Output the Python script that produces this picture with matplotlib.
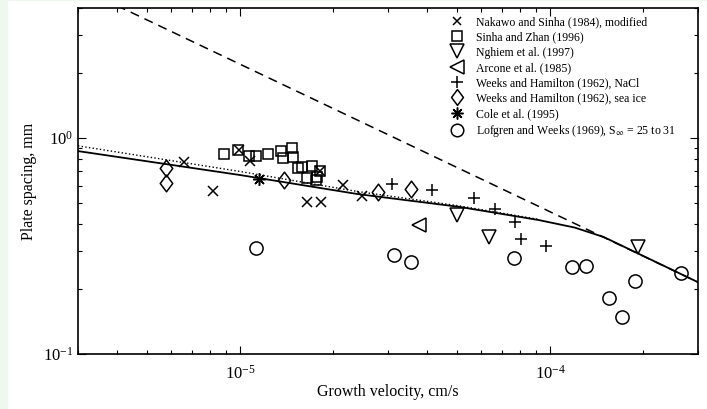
import numpy as np
import matplotlib
matplotlib.use("Agg")
import matplotlib.pyplot as plt
from matplotlib.path import Path
from matplotlib.patches import Rectangle

plt.rcParams['font.family'] = ['Liberation Serif', 'DejaVu Serif']
plt.rcParams['mathtext.fontset'] = 'stix'

# model curves
solid_x = [3e-6, 1e-5, 2.4e-5, 5.1e-5, 9.2e-5, 1.2e-4, 1.49e-4, 3e-4]
solid_y = [0.87, 0.674, 0.55, 0.48, 0.417, 0.385, 0.348, 0.215]
dotted_x = [3e-6, 1e-5, 2.4e-5, 5.1e-5, 9.2e-5]
dotted_y = [0.92, 0.70, 0.565, 0.485, 0.42]
dashed_x = [3e-6, 3e-4]
dashed_y = [5.0, 0.215]

# measurements
nakawo_x = [6.6e-6, 8.19e-6, 9.93e-6, 1.077e-5, 1.64e-5, 1.82e-5, 1.81e-5, 2.14e-5, 2.47e-5]
nakawo_y = [0.774, 0.568, 0.88, 0.782, 0.505, 0.505, 0.703, 0.606, 0.539]
sinha_x = [8.88e-6, 9.85e-6, 1.069e-5, 1.126e-5, 1.23e-5, 1.354e-5, 1.47e-5, 1.374e-5,
           1.48e-5, 1.582e-5, 1.536e-5, 1.704e-5, 1.642e-5, 1.755e-5, 1.808e-5, 1.768e-5]
sinha_y = [0.843, 0.88, 0.825, 0.825, 0.843, 0.871, 0.899, 0.808,
           0.817, 0.734, 0.727, 0.742, 0.653, 0.639, 0.703, 0.66]
nghiem_x = [4.99e-5, 6.37e-5, 1.92e-4]
nghiem_y = [0.44, 0.348, 0.313]
arcone_x = [3.79e-5]
arcone_y = [0.396]
nacl_x = [3.10e-5, 4.17e-5, 5.69e-5, 6.65e-5, 7.72e-5, 8.07e-5, 9.71e-5]
nacl_y = [0.612, 0.574, 0.528, 0.469, 0.409, 0.340, 0.316]
seaice_x = [5.78e-6, 5.78e-6, 1.385e-5, 2.78e-5, 3.57e-5]
seaice_y = [0.727, 0.619, 0.639, 0.562, 0.581]
cole_x = [1.155e-5]
cole_y = [0.646]
lofgren_x = [1.126e-5, 3.14e-5, 3.57e-5, 7.66e-5, 1.178e-4, 1.305e-4, 1.548e-4, 1.704e-4, 1.876e-4, 2.64e-4]
lofgren_y = [0.31, 0.287, 0.267, 0.278, 0.253, 0.2555, 0.1816, 0.1484, 0.218, 0.237]

labels = ['Nakawo and Sinha (1984), modified',
          'Sinha and Zhan (1996)',
          'Nghiem et al. (1997)',
          'Arcone et al. (1985)',
          'Weeks and Hamilton (1962), NaCl',
          'Weeks and Hamilton (1962), sea ice',
          'Cole et al. (1995)',
          r'Lofgren and Weeks (1969), S$_\infty$ = 25 to 31']

W, H = 707, 409
fig = plt.figure(figsize=(W / 100, H / 100), dpi=100)
fig.patch.set_facecolor('#eef8ee')
fig.patches.append(Rectangle((8 / W, 0), 1 - 8 / W, 1 - 1 / H, transform=fig.transFigure,
                             facecolor='white', edgecolor='none', zorder=-1))

ax = fig.add_axes([78 / W, (H - 354) / H, 620 / W, 346 / H])

ax.plot(dashed_x, dashed_y, 'k--', lw=1.1, dashes=(6, 4))
ax.plot(dotted_x, dotted_y, 'k:', lw=1.0)
ax.plot(solid_x, solid_y, 'k-', lw=1.3)

diamond = Path([(0, 1), (0.75, 0), (0, -1), (-0.75, 0), (0, 1)],
               [Path.MOVETO, Path.LINETO, Path.LINETO, Path.LINETO, Path.CLOSEPOLY])
mk = dict(color='k', mfc='none', mec='k', mew=1.1, ls='none')
ax.plot(nakawo_x, nakawo_y, marker='x', ms=6.5, label=labels[0], **mk)
ax.plot(sinha_x, sinha_y, marker='s', ms=7.5, label=labels[1], **mk)
ax.plot(nghiem_x, nghiem_y, marker='v', ms=10, label=labels[2], **mk)
ax.plot(arcone_x, arcone_y, marker='<', ms=10, label=labels[3], **mk)
ax.plot(nacl_x, nacl_y, marker='+', ms=9, label=labels[4], **mk)
ax.plot(seaice_x, seaice_y, marker=diamond, ms=12, label=labels[5], **mk)
ax.plot(cole_x, cole_y, marker=(8, 2, 0), ms=9, label=labels[6], **mk)
ax.plot(lofgren_x, lofgren_y, marker='o', ms=9.5, label=labels[7], **mk)

ax.set_xscale('log')
ax.set_yscale('log')
ax.set_xlim(3e-6, 3e-4)
ax.set_ylim(0.1, 4)
ax.set_xticks([1e-5, 1e-4])
ax.set_yticks([0.1, 1])
ax.tick_params(which='both', direction='in', top=True, right=True, labelsize=12)
ax.tick_params(which='major', length=6, width=0.8)
ax.tick_params(which='minor', length=3, width=0.8)
ax.tick_params(axis='x', pad=8)
for s in ax.spines.values():
    s.set_linewidth(1.2)

ax.set_xlabel('Growth velocity, cm/s', fontsize=11.5, labelpad=1)
ax.set_ylabel('Plate spacing, mm', fontsize=11.5, labelpad=4)

ax.legend(loc='upper left', bbox_to_anchor=((450 - 78) / 620, 1 - (16 - 8) / 346),
          frameon=False, fontsize=8.5, borderpad=0, borderaxespad=0,
          handlelength=1.2, handletextpad=1.0, labelspacing=0.28, markerscale=0.95)

fig.savefig('out.png', dpi=100, facecolor=fig.get_facecolor())
